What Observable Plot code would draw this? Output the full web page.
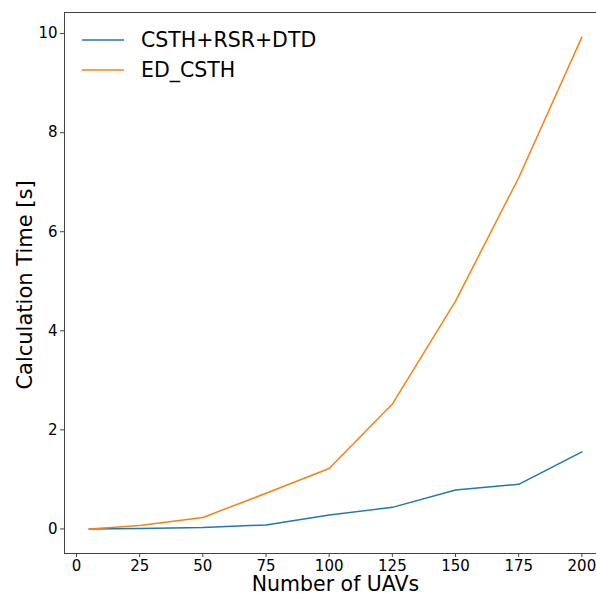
<!DOCTYPE html>
<html>
<head>
<meta charset="utf-8">
<script src="https://cdn.jsdelivr.net/npm/d3@7"></script>
<script src="https://cdn.jsdelivr.net/npm/@observablehq/plot@0.6"></script>
<style>
  html, body { margin: 0; padding: 0; background: #fff; }
  #chart svg { display: block; overflow: hidden; }
</style>
</head>
<body>
<div id="chart"></div>
<script>
const uavs = [5, 25, 50, 75, 100, 125, 150, 175, 200];
const timeCSTH_RSR_DTD = [0.0, 0.01, 0.03, 0.08, 0.28, 0.435, 0.785, 0.90, 1.556];
const timeED_CSTH = [0.0, 0.07, 0.23, 0.72, 1.22, 2.52, 4.60, 7.09, 9.93];
const seriesNames = ["CSTH+RSR+DTD", "ED_CSTH"];
const seriesColors = ["#1f77b4", "#ff7f0e"];
const xTicks = [0, 25, 50, 75, 100, 125, 150, 175, 200];
const yTicks = [0, 2, 4, 6, 8, 10];

const rows = [];
uavs.forEach((u, i) => {
  rows.push({n: u, t: timeCSTH_RSR_DTD[i], s: seriesNames[0]});
});
uavs.forEach((u, i) => {
  rows.push({n: u, t: timeED_CSTH[i], s: seriesNames[1]});
});

const font = "DejaVu Sans, sans-serif";
const chart = Plot.plot({
  width: 596,
  height: 593,
  marginLeft: 64,
  marginRight: -10,
  marginTop: 12,
  marginBottom: 40,
  style: {fontFamily: font, fontSize: "15px", color: "#000", background: "#fff"},
  x: {domain: [-4.75, 209.75], ticks: xTicks, label: null},
  y: {domain: [-0.4965, 10.4265], ticks: yTicks, label: null},
  color: {domain: seriesNames, range: seriesColors},
  marks: [
    Plot.frame({anchor: "top", stroke: "#444", strokeWidth: 1}),
    Plot.frame({anchor: "left", stroke: "#444", strokeWidth: 1}),
    Plot.frame({anchor: "bottom", stroke: "#444", strokeWidth: 1}),
    Plot.axisX({ticks: xTicks, tickSize: 4, tickPadding: 3, fontSize: 15, stroke: "#444"}),
    Plot.axisY({ticks: yTicks, tickSize: 4, tickPadding: 3, fontSize: 15, stroke: "#444"}),
    Plot.line(rows, {x: "n", y: "t", z: "s", stroke: "s", strokeWidth: 1.5}),
    Plot.text(["Number of UAVs"], {frameAnchor: "bottom", dy: 37.5, fontSize: 20.5, lineAnchor: "bottom"}),
    Plot.text(["Calculation Time [s]"], {frameAnchor: "left", dx: -33, dy: 2, rotate: -90, fontSize: 21, textAnchor: "middle", lineAnchor: "bottom"})
  ]
});

// Legend inside plot, top-left
const svg = d3.select(chart);
const leg = svg.append("g").attr("transform", "translate(82,29)").attr("text-anchor", "start");
seriesNames.forEach((name, i) => {
  const g = leg.append("g").attr("transform", `translate(0,${i * 30})`);
  g.append("line").attr("x1", 0).attr("x2", 42).attr("y1", 11).attr("y2", 11)
    .attr("stroke", seriesColors[i]).attr("stroke-width", 1.5);
  g.append("text").attr("x", 59).attr("y", 11).attr("dy", "0.36em")
    .attr("text-anchor", "start")
    .attr("font-family", font).attr("font-size", 20.5).attr("fill", "#000").text(name);
});

document.getElementById("chart").appendChild(chart);
</script>
</body>
</html>
